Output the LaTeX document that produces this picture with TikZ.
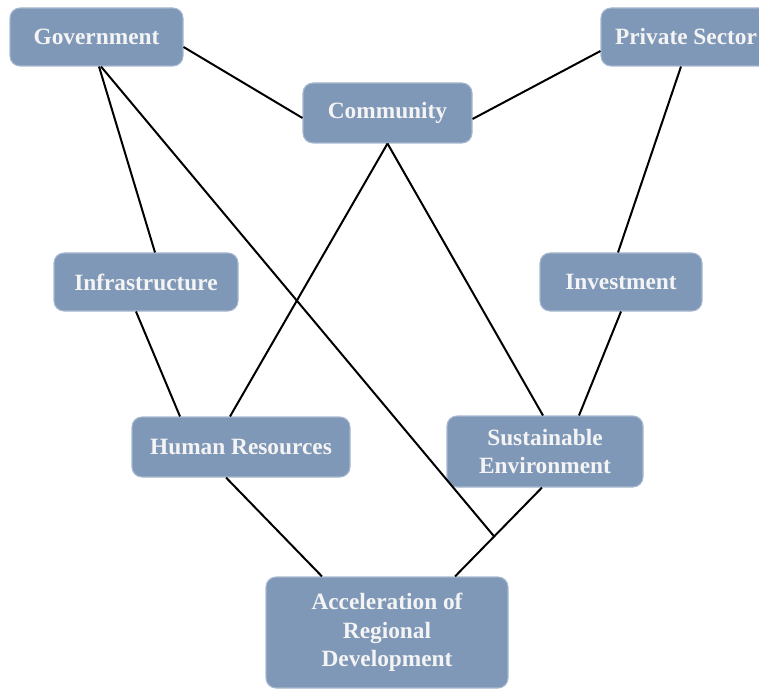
\documentclass[tikz,border=0pt]{standalone}
\usepackage{fontspec}
\setmainfont{Liberation Serif}
\usetikzlibrary{calc}
\definecolor{boxblue}{HTML}{8098B8}
\definecolor{boxedge}{HTML}{A6B8CF}
\definecolor{boxtext}{HTML}{F4F4F4}
\tikzset{style={font=\bfseries\fontsize{17.5}{21.5}\selectfont}}
\begin{document}
\begin{tikzpicture}[x=0.75pt,y=-0.75pt,box/.style={rectangle,rounded corners=7.5pt,fill=boxblue,draw=boxedge,
            line width=0.8pt,text=boxtext,align=center,inner sep=0pt,minimum height=43.5pt,
            font=\bfseries\fontsize{17.5}{21.5}\selectfont},
            link/.style={black,line width=1.5pt}]
            \useasboundingbox (0,0) rectangle (759,691);
            % top row
            \node[box,minimum width=129.75pt] (gov) at (96.5,37) {Government};
            \node[box,minimum width=127.5pt] (priv) at (686,37) {Private Sector};
            \node[box,minimum width=126.75pt,minimum height=45pt] (com) at (387.5,113) {Community};
            % middle row
            \node[box,minimum width=138pt] (infra) at (146,282) {Infrastructure};
            \node[box,minimum width=121.5pt] (inv) at (621,282) {Investment};
            \node[box,minimum width=163.5pt,minimum height=45pt] (hr) at (241,447) {Human Resources};
            \node[box,minimum width=147pt,minimum height=53.25pt] (env) at (545,451.5) {Sustainable\\Environment};
            % goal
            \node[box,minimum width=181.5pt,minimum height=83.25pt] (acc) at (387,632.5) {Acceleration of\\Regional\\Development};
            \draw[link] ($(gov.east)+(0,10)$) -- ($(com.west)+(0,5)$);
            \draw[link] ($(priv.west)+(0,14)$) -- ($(com.east)+(0,6)$);
            \draw[link] ($(gov.south)+(2.5,0)$) -- ($(infra.north)+(9,0)$);
            \draw[link] ($(priv.south)+(-5,0)$) -- ($(inv.north)+(-3,0)$);
            \draw[link] (com.south) -- ($(hr.north)+(-11,0)$);
            \draw[link] (com.south) -- ($(env.north)+(-2,0)$);
            \draw[link] ($(infra.south)+(-10,0)$) -- ($(hr.north)+(-61,0)$);
            \draw[link] (inv.south) -- ($(env.north)+(34,0)$);
            \draw[link] ($(hr.south)+(-15,0)$) -- ($(acc.north)+(-65,0)$);
            \draw[link] ($(env.south)+(-3,0)$) -- coordinate[pos=0.55] (jn) ($(acc.north)+(68,0)$);
            \draw[link] ($(gov.south)+(4.5,0)$) -- (jn);
        \end{tikzpicture}
\end{document}
